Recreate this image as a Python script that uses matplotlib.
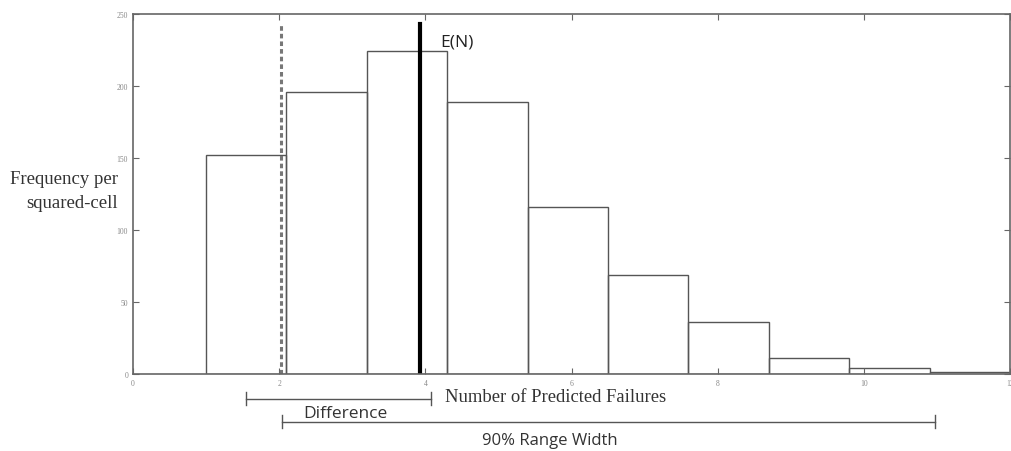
import numpy as np
import matplotlib
matplotlib.use("Agg")
import matplotlib.pyplot as plt
import matplotlib.transforms as mtransforms

# histogram data
bin_edges = [1.0, 2.1, 3.2, 4.3, 5.4, 6.5, 7.6, 8.7, 9.8, 10.9, 12.0]
counts = [152, 196, 224, 189, 116, 69, 36, 11, 4, 1.5]

# marker lines
lower_line_x = 2.03
lower_line_top = 244
mean_line_x = 3.93
mean_line_top = 243

# brackets below the axis (data x)
diff_span = [1.54, 4.08]
range_span = [2.04, 10.98]

xticks = [0, 2, 4, 6, 8, 10, 12]
yticks = [0, 50, 100, 150, 200, 250]

fig = plt.figure(figsize=(10.11, 4.52), dpi=100)
ax = fig.add_axes([133 / 1011, 1 - 375 / 452, 877 / 1011, 360 / 452])

lefts = np.array(bin_edges[:-1])
widths = np.diff(bin_edges)
ax.bar(lefts, counts, width=widths, align='edge', fill=False,
       edgecolor='#555555', linewidth=1.0)

ax.plot([lower_line_x, lower_line_x], [0, lower_line_top], color='#777777',
        linestyle=(0, (1.5, 1)), linewidth=2.2)
ax.plot([mean_line_x, mean_line_x], [0, mean_line_top], color='black',
        linewidth=3)
ax.text(4.2, 231, 'E(N)', fontsize=12.5, family='Open Sans', color='#222222',
        ha='left', va='center')

ax.set_xlim(0, 12)
ax.set_ylim(0, 250)
ax.set_xticks(xticks)
ax.set_yticks(yticks)
ax.tick_params(direction='in', length=4, width=0.8, colors='#666666',
               labelsize=5.5, labelcolor='#888888', top=True, right=True)
for lab in ax.get_xticklabels() + ax.get_yticklabels():
    lab.set_family('Liberation Serif')
for s in ax.spines.values():
    s.set_color('#666666')
    s.set_linewidth(1.2)

# y label, horizontal to the left of the axis, two right-aligned lines
fig.text(118 / 1011, 1 - 180 / 452, 'Frequency per',
         family='Liberation Serif', fontsize=13.5, color='#333333',
         ha='right', va='center')
fig.text(118 / 1011, 1 - 204 / 452, 'squared-cell',
         family='Liberation Serif', fontsize=13.5, color='#333333',
         ha='right', va='center')

trans = mtransforms.blended_transform_factory(ax.transData, ax.transAxes)
ax.text(4.27, -0.062, 'Number of Predicted Failures', transform=trans,
        family='Liberation Serif', fontsize=13.4, color='#333333',
        ha='left', va='center')


def bracket(x0, x1, y, tick_h):
    ax.plot([x0, x1], [y, y], color='#555555', linewidth=1.0,
            transform=trans, clip_on=False)
    for x in (x0, x1):
        ax.plot([x, x], [y - tick_h, y + tick_h], color='#555555',
                linewidth=1.0, transform=trans, clip_on=False)


bracket(diff_span[0], diff_span[1], -0.069, 0.018)
bracket(range_span[0], range_span[1], -0.133, 0.018)

ax.text(2.33, -0.108, 'Difference', transform=trans, family='Open Sans',
        fontsize=12.5, color='#333333', ha='left', va='center')
ax.text(5.71, -0.183, '90% Range Width', transform=trans, family='Open Sans',
        fontsize=12, color='#333333', ha='center', va='center')

fig.savefig('out.png', dpi=100)
